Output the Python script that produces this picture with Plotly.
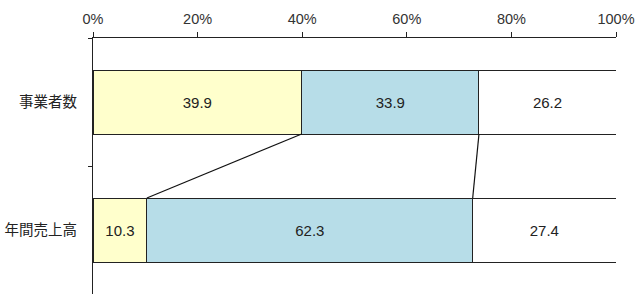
import plotly.graph_objects as go

categories = ["事業者数", "年間売上高"]
series_names = ["A", "B", "C"]
values_a = [39.9, 10.3]
values_b = [33.9, 62.3]
values_c = [26.2, 27.4]
tick_vals = [0, 20, 40, 60, 80, 100]
tick_text = ["0%", "20%", "40%", "60%", "80%", "100%"]

colors = ["#FFFFCC", "#B7DDE8", "#FFFFFF"]
series = [values_a, values_b, values_c]

fig = go.Figure()
for name, vals, col in zip(series_names, series, colors):
    fig.add_trace(go.Bar(
        y=categories, x=vals, orientation="h", name=name,
        marker=dict(color=col, line=dict(color="#222222", width=1)),
        text=[f"{v:.1f}" for v in vals], textposition="inside",
        insidetextanchor="middle", textangle=0,
        textfont=dict(family="Liberation Sans, Arial", size=15, color="#222222"),
        width=0.5, showlegend=False, hoverinfo="skip",
    ))

# connector lines between cumulative boundaries
cum_top = [values_a[0], values_a[0] + values_b[0]]
cum_bot = [values_a[1], values_a[1] + values_b[1]]
for xt, xb in zip(cum_top, cum_bot):
    fig.add_shape(type="line", xref="x", yref="y", x0=xt, y0=0.25, x1=xb, y1=0.75,
                  line=dict(color="#111111", width=1.2))

fig.update_layout(
    barmode="stack", width=640, height=302,
    margin=dict(l=93, r=24, t=38, b=8),
    paper_bgcolor="white", plot_bgcolor="white",
    font=dict(family="Liberation Sans, Arial", color="#333333"),
    uniformtext=dict(minsize=15, mode="show"),
    xaxis=dict(side="top", range=[0, 100], tickvals=tick_vals, ticktext=tick_text,
               showline=True, linecolor="#222222", linewidth=1,
               ticks="outside", ticklen=5, tickcolor="#222222",
               showgrid=False, zeroline=False, ticklabelstandoff=2, automargin=False,
               tickfont=dict(family="Liberation Sans, Arial", size=14.5, color="#333333")),
    yaxis=dict(autorange="reversed", showline=True, linecolor="#222222", linewidth=1,
               ticks="outside", ticklen=4, tickcolor="#222222", tickson="boundaries",
               showgrid=False, zeroline=False, ticklabelstandoff=12, automargin=False,
               tickfont=dict(family="Noto Sans CJK JP", size=14.5, color="#222222")),
)

fig.write_html("out.html")
